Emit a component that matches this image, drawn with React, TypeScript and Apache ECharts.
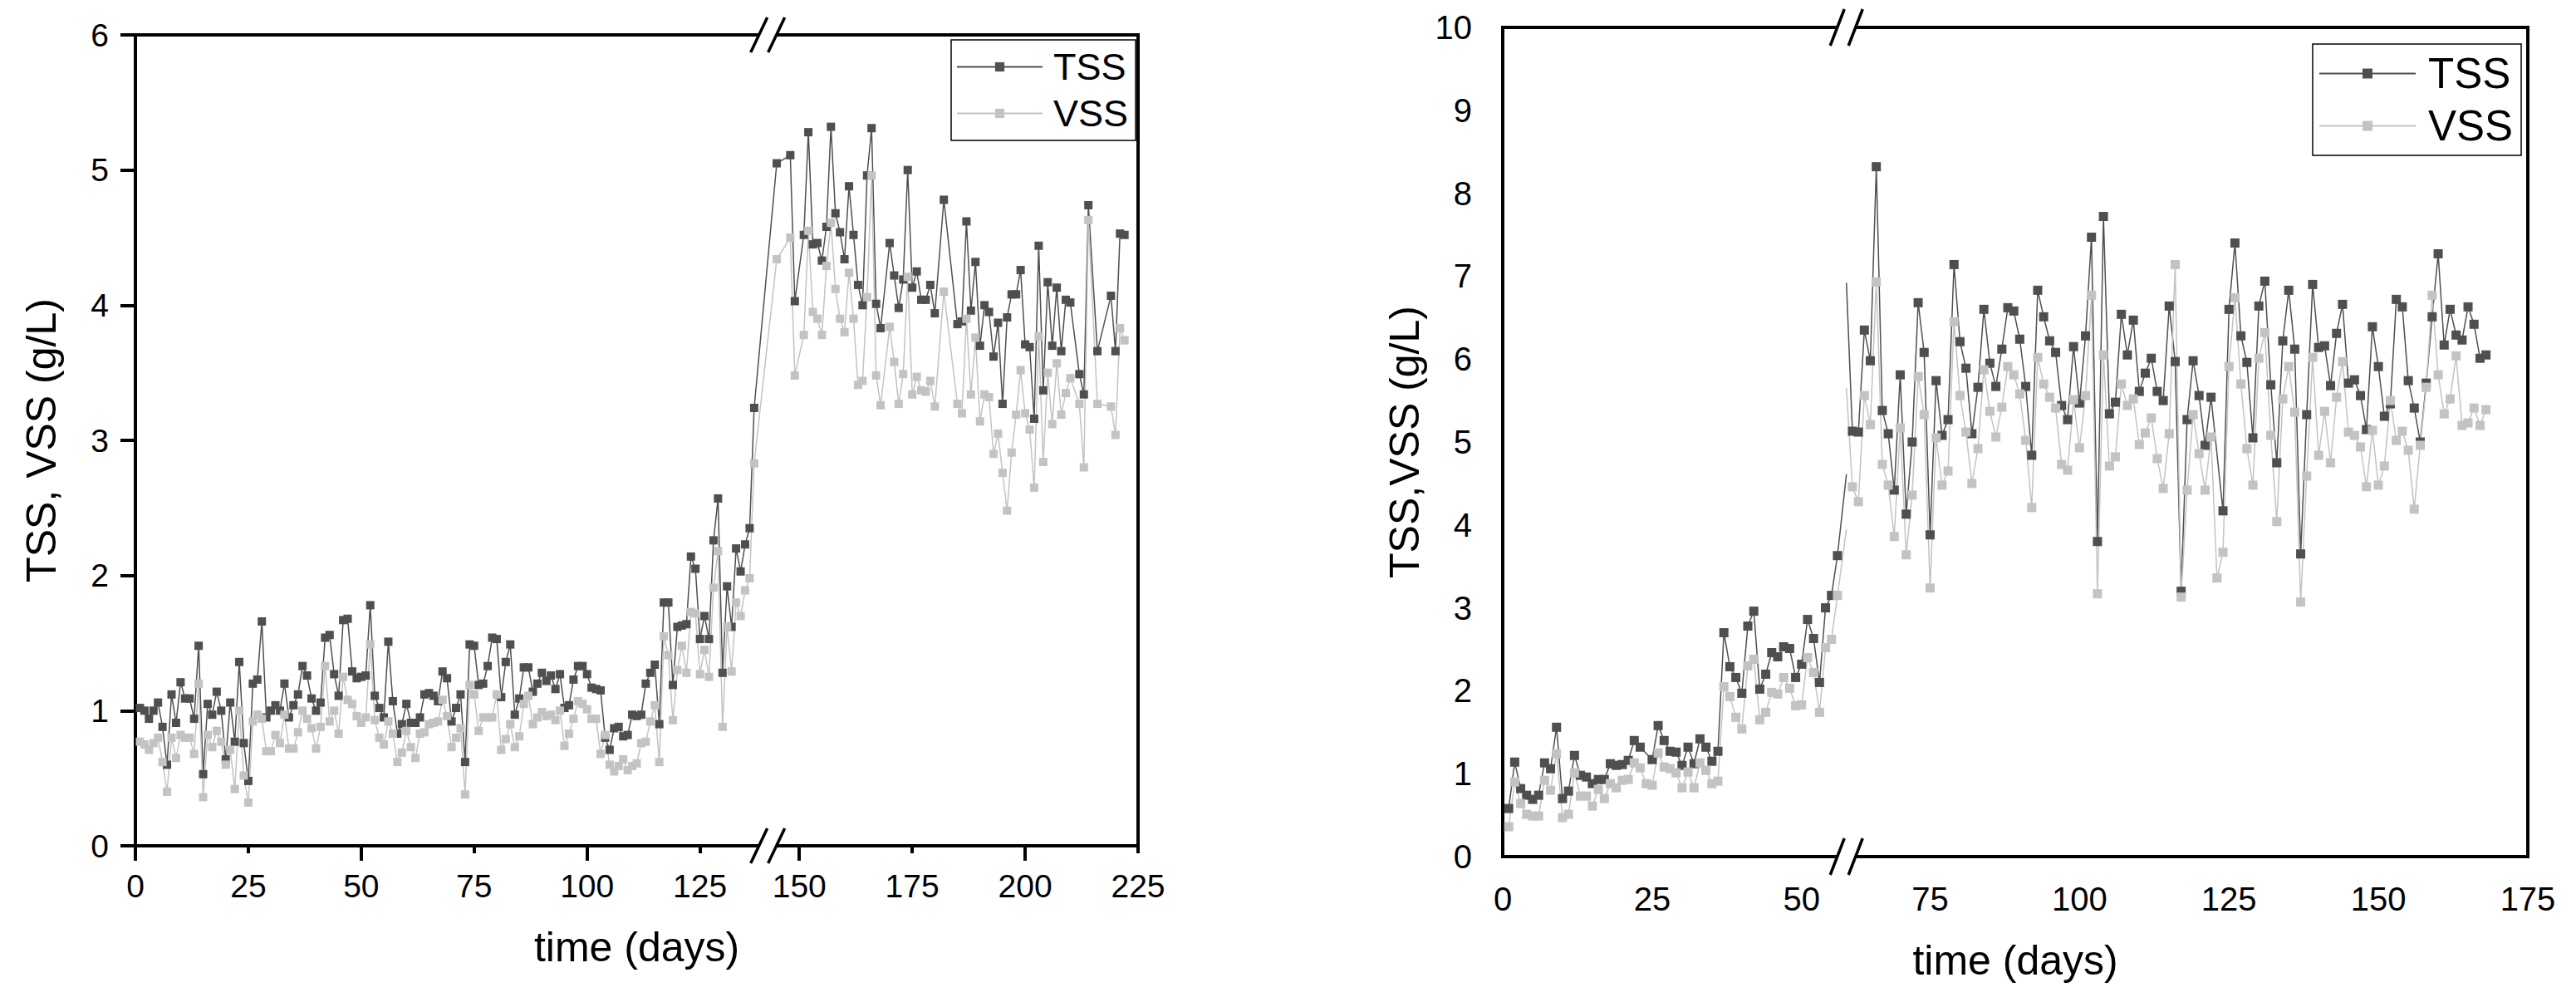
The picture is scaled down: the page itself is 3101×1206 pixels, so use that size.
import { useEffect, useRef } from 'react';
import * as echarts from 'echarts';

const FONT = 'Liberation Sans';
const TSS_COLOR = '#4f4f4f';
const VSS_COLOR = '#c3c3c3';

// ---------- left panel ----------
const leftDays = [
  1, 2, 3, 4, 5, 6, 7, 8, 9, 10, 11, 12, 13, 14, 15, 16, 17, 18, 19, 20,
  21, 22, 23, 24, 25, 26, 27, 28, 29, 30, 31, 32, 33, 34, 35, 36, 37, 38, 39, 40,
  41, 42, 43, 44, 45, 46, 47, 48, 49, 50, 51, 52, 53, 54, 55, 56, 57, 58, 59, 60,
  61, 62, 63, 64, 65, 66, 67, 68, 69, 70, 71, 72, 73, 74, 75, 76, 77, 78, 79, 80,
  81, 82, 83, 84, 85, 86, 87, 88, 89, 90, 91, 92, 93, 94, 95, 96, 97, 98, 99, 100,
  101, 102, 103, 104, 105, 106, 107, 108, 109, 110, 111, 112, 113, 114, 115, 116, 117, 118, 119, 120,
  121, 122, 123, 124, 125, 126, 127, 128, 129, 130, 131, 132, 133, 134, 135, 136, 137,
  145, 148, 149, 151, 152, 153, 154, 155, 156, 157, 158, 159, 160, 161, 162, 163, 164, 165, 166, 167, 168,
  170, 171, 172, 173, 174, 175, 176, 177, 178, 179, 180, 182,
  185, 186, 187, 188, 189, 190, 191, 192, 193, 194, 195, 196, 197, 198, 199, 200,
  201, 202, 203, 204, 205, 206, 207, 208, 209, 210, 212, 213, 214, 216, 219, 220, 221, 222,
];
const leftTss = [
  1.02, 1.0, 0.94, 1.0, 1.06, 0.88, 0.6, 1.12, 0.91, 1.21,
  1.09, 1.09, 0.94, 1.48, 0.53, 1.05, 0.97, 1.14, 1.0, 0.64,
  1.06, 0.77, 1.36, 0.76, 0.48, 1.2, 1.23, 1.66, 0.95, 1.0,
  1.04, 1.0, 1.2, 0.95, 1.04, 1.12, 1.33, 1.26, 1.09, 1.0,
  1.06, 1.54, 1.56, 1.27, 1.11, 1.67, 1.68, 1.29, 1.24, 1.25,
  1.26, 1.78, 1.11, 1.02, 0.95, 1.51, 1.07, 0.83, 0.9, 1.05,
  0.91, 0.91, 0.95, 1.12, 1.13, 1.11, 1.07, 1.29, 1.24, 0.92,
  1.02, 1.12, 0.62, 1.49, 1.48, 1.19, 1.2, 1.33, 1.54, 1.53,
  1.1, 1.36, 1.49, 0.97, 1.09, 1.32, 1.32, 1.14, 1.2, 1.28,
  1.22, 1.26, 1.16, 1.27, 1.02, 1.04, 1.23, 1.33, 1.33, 1.27,
  1.17, 1.16, 1.15, 0.8, 0.71, 0.87, 0.88, 0.81, 0.82, 0.97,
  0.96, 0.97, 1.2, 1.28, 1.34, 0.9, 1.8, 1.8, 1.19, 1.62,
  1.63, 1.64, 2.14, 2.05, 1.53, 1.7, 1.53, 2.26, 2.57, 1.28,
  1.92, 1.62, 2.2, 2.03, 2.23, 2.35, 3.24,
  5.05, 5.11, 4.03, 4.52, 5.28, 4.45, 4.46, 4.33, 4.58, 5.32, 4.68, 4.54, 4.34, 4.88, 4.52, 4.15, 4.0, 4.96, 5.31, 4.01, 3.83,
  4.46, 4.22, 3.98, 4.19, 5.0, 4.13, 4.25, 4.04, 4.04, 4.15, 3.94, 4.78,
  3.86, 3.88, 4.62, 3.96, 4.32, 3.7, 4.0, 3.95, 3.62, 3.87, 3.27, 3.91, 4.08, 4.08, 4.26, 3.71,
  3.69, 3.16, 4.44, 3.37, 4.17, 3.7, 4.13, 3.66, 4.04, 4.02, 3.49, 3.34, 4.74, 3.66, 4.07, 3.66, 4.53, 4.52,
];
const leftVss = [
  0.77, 0.75, 0.71, 0.76, 0.8, 0.62, 0.4, 0.8, 0.65, 0.82,
  0.8, 0.8, 0.68, 1.2, 0.36, 0.82, 0.73, 0.85, 0.77, 0.6,
  0.71, 0.42, 1.0, 0.52, 0.32, 0.92, 0.97, 0.94, 0.7, 0.7,
  0.82, 0.76, 0.97, 0.72, 0.72, 0.84, 1.0, 0.94, 0.87, 0.72,
  0.88, 1.33, 0.92, 1.0, 0.83, 1.25, 1.08, 1.05, 0.96, 0.91,
  0.95, 1.49, 0.93, 0.8, 0.75, 0.92, 0.83, 0.62, 0.69, 0.85,
  0.73, 0.65, 0.83, 0.84, 0.9, 0.91, 0.92, 1.08, 0.96, 0.73,
  0.8, 0.87, 0.38, 1.19, 1.12, 0.85, 0.95, 0.95, 0.95, 1.12,
  0.71, 0.79, 0.9, 0.73, 0.81, 1.05, 1.11, 0.9, 0.95, 0.99,
  0.96, 0.97, 0.93, 1.0, 0.74, 0.83, 0.94, 1.07, 1.05, 1.01,
  0.94, 0.94, 0.68, 0.82, 0.6, 0.55, 0.59, 0.64, 0.56, 0.59,
  0.61, 0.76, 0.77, 0.92, 1.04, 0.62, 1.55, 1.41, 0.93, 1.3,
  1.48, 1.28, 1.73, 1.72, 1.27, 1.45, 1.25, 1.91, 2.18, 0.88,
  1.62, 1.29, 1.8, 1.7, 1.89, 1.98, 2.83,
  4.34, 4.5, 3.48, 3.78, 4.55, 3.95, 3.9, 3.78, 4.29, 4.61, 4.12, 3.9, 3.8, 4.24, 3.9, 3.41, 3.44, 4.06, 4.96, 3.48, 3.26,
  3.84, 3.58, 3.27, 3.49, 4.21, 3.34, 3.47, 3.37, 3.36, 3.44, 3.25, 4.1,
  3.27, 3.2, 3.9, 3.34, 3.76, 3.14, 3.34, 3.32, 2.9, 3.05, 2.76, 2.48, 2.91, 3.19, 3.52, 3.2,
  3.08, 2.65, 3.77, 2.84, 3.5, 3.12, 3.57, 3.19, 3.35, 3.46, 3.27, 2.8, 4.63, 3.27, 3.25, 3.04, 3.83, 3.74,
];
const leftBreak = [140, 143];
const leftXLabels = [0, 25, 50, 75, 100, 125, 150, 175, 200, 225];
const leftXMajor = [0, 50, 100, 150, 200];

// ---------- right panel ----------
const rightDays = [
  1, 2, 3, 4, 5, 6, 7, 8, 9, 10, 11, 12, 13, 14, 15, 16, 17, 18, 19, 20,
  21, 22, 23, 24, 25, 26, 27, 28, 29, 30, 31, 32, 33, 34, 35, 36, 37, 38, 39, 40,
  41, 42, 43, 44, 45, 46, 47, 48, 49, 50, 51, 52, 53, 54, 55, 56,
  62, 63, 64, 65, 66, 67, 68, 69, 70, 71, 72, 73, 74, 75, 76, 77, 78, 79, 80, 81,
  82, 83, 84, 85, 86, 87, 88, 89, 90, 91, 92, 93, 94, 95, 96, 97, 98, 99, 100, 101,
  102, 103, 104, 105, 106, 107, 108, 109, 110, 111, 112, 113, 114, 115, 116, 117, 118, 119, 120, 121,
  122, 123, 124, 125, 126, 127, 128, 129, 130, 131, 132, 133, 134, 135, 136, 137, 138, 139, 140, 141,
  142, 143, 144, 145, 146, 147, 148, 149, 150, 151, 152, 153, 154, 155, 156, 157, 158, 159, 160, 161,
  162, 163, 164, 165, 166, 167, 168,
];
const rightTss = [
  0.58, 1.14, 0.82, 0.74, 0.69, 0.74, 1.13, 1.06, 1.56, 0.7,
  0.79, 1.22, 0.98, 0.96, 0.88, 0.93, 0.93, 1.12, 1.1, 1.11,
  1.16, 1.4, 1.32, null, 1.17, 1.58, 1.4, 1.27, 1.26, 1.1,
  1.32, 1.12, 1.42, 1.32, 1.15, 1.27, 2.7, 2.29, 2.16, 1.97,
  2.78, 2.96, 2.02, 2.2, 2.46, 2.41, 2.53, 2.51, 2.16, 2.32,
  2.86, 2.63, 2.1, 3.0, 3.15, 3.63,
  5.13, 5.12, 6.35, 5.98, 8.32, 5.38, 5.1, 4.42, 5.81, 4.13,
  5.0, 6.68, 6.08, 3.88, 5.74, 5.08, 5.27, 7.14, 6.21, 5.89,
  5.1, 5.66, 6.6, 5.95, 5.67, 6.12, 6.62, 6.58, 6.24, 5.67,
  4.84, 6.83, 6.51, 6.22, 6.08, 5.44, 5.27, 6.15, 5.47, 6.28,
  7.47, 3.8, 7.72, 5.34, 5.48, 6.54, 6.05, 6.47, 5.61, 5.83,
  6.01, 5.61, 5.5, 6.64, 5.97, 3.2, 5.27, 5.98, 5.56, 4.96,
  5.54, null, 4.17, 6.6, 7.4, 6.28, 5.96, 5.05, 6.64, 6.94,
  5.69, 4.75, 6.22, 6.83, 6.12, 3.65, 5.33, 6.9, 6.14, 6.16,
  5.68, 6.31, 6.66, 5.71, 5.75, 5.56, 5.15, 6.39, 5.91, 5.31,
  5.46, 6.72, 6.63, 5.74, 5.41, 5.0, 5.71, 6.51, 7.27, 6.17,
  6.6, 6.29, 6.23, 6.63, 6.42, 6.01, 6.05,
];
const rightVss = [
  0.36, 0.9, 0.64, 0.51, 0.49, 0.49, 0.92, 0.8, 1.24, 0.47,
  0.51, 1.01, 0.73, 0.73, 0.61, 0.81, 0.7, 0.88, 0.83, 0.92,
  0.93, 1.13, 1.07, 0.88, 0.86, 1.25, 1.08, 1.06, 1.01, 0.83,
  1.02, 0.83, 1.13, 1.04, 0.88, 0.91, 2.05, 1.93, 1.68, 1.54,
  2.3, 2.38, 1.65, 1.74, 1.98, 1.96, 2.16, 2.03, 1.82, 1.83,
  2.4, 2.22, 1.74, 2.52, 2.62, 3.15,
  4.46, 4.28, 5.56, 5.21, 6.93, 4.73, 4.48, 3.86, 5.17, 3.64,
  4.36, 5.79, 5.33, 3.24, 5.05, 4.48, 4.65, 6.45, 5.56, 5.12,
  4.5, 4.92, 5.87, 5.37, 5.06, 5.42, 5.91, 5.81, 5.58, 5.02,
  4.21, 6.02, 5.7, 5.54, 5.41, 4.73, 4.66, 5.51, 4.93, 5.56,
  6.77, 3.17, 6.05, 4.71, 4.82, 5.7, 5.44, 5.52, 4.97, 5.11,
  5.29, 4.8, 4.44, 5.1, 7.14, 3.13, 4.42, 5.33, 4.86, 4.42,
  5.06, 3.36, 3.67, 5.91, 6.74, 5.7, 4.92, 4.48, 6.01, 6.32,
  5.08, 4.04, 5.52, 5.91, 5.36, 3.07, 4.59, 6.02, 4.84, 5.37,
  4.75, 5.54, 5.97, 5.12, 5.08, 4.94, 4.46, 5.14, 4.48, 4.71,
  5.5, 5.02, 5.13, 4.9, 4.19, 4.96, 5.66, 6.77, 5.81, 5.34,
  5.52, 6.04, 5.2, 5.23, 5.41, 5.2, 5.39,
];
const rightBreak = [57.5, 61];
// where the lines meet the two edges of the break
const rightTssEdge = [4.61, 6.92];
const rightVssEdge = [3.95, 5.65];
const rightXLabels = [0, 25, 50, 75, 100, 125, 150, 175];

function toPoints(days: number[], values: (number | null)[]) {
  const out: number[][] = [];
  days.forEach((d, i) => {
    const v = values[i];
    if (v !== null && v !== undefined) out.push([d, v]);
  });
  return out;
}

function lineSeries(name: string, color: string, data: any[], xi: number, yi: number, size: number) {
  return {
    name,
    type: 'line',
    xAxisIndex: xi,
    yAxisIndex: yi,
    data,
    symbol: 'rect',
    symbolSize: size,
    itemStyle: { color },
    lineStyle: { color, width: 1.5 },
    emphasis: { disabled: true },
  };
}

// the "//" marks that sit on the top and bottom frame lines at an axis break
function breakMarks(cx: number, cy: number, w: number, h: number, sep: number) {
  const k = w / h;
  const c1 = cx - sep / 2;
  const c2 = cx + sep / 2;
  const slash = (c: number) => ({
    type: 'line',
    shape: { x1: c - w / 2, y1: cy + h / 2, x2: c + w / 2, y2: cy - h / 2 },
    style: { stroke: '#000', lineWidth: 3.5 },
    z: 101,
  });
  return [
    {
      type: 'polygon',
      shape: {
        points: [
          [c1 - 7 * k, cy + 7],
          [c1 + 7 * k, cy - 7],
          [c2 + 7 * k, cy - 7],
          [c2 - 7 * k, cy + 7],
        ],
      },
      style: { fill: '#fff' },
      z: 100,
    },
    slash(c1),
    slash(c2),
  ];
}

export default function App() {
  const chartRef = useRef<HTMLDivElement>(null);

  useEffect(() => {
    document.body.style.margin = '0';
    if (!chartRef.current) return;
    const chart = echarts.init(chartRef.current, null, { renderer: 'svg' });

    const txt = { fontFamily: FONT, color: '#000' };
    const frame = { lineStyle: { color: '#000', width: 4 } };
    const noSplit = { show: false };
    const leftBreaks = [{ start: leftBreak[0], end: leftBreak[1], gap: 0 }];
    const rightBreaks = [{ start: rightBreak[0], end: rightBreak[1], gap: 0 }];

    const rightTssData: any[] = toPoints(rightDays, rightTss);
    const rightVssData: any[] = toPoints(rightDays, rightVss);
    const before = (p: number[]) => p[0] < rightBreak[0];
    const after = (p: number[]) => p[0] > rightBreak[1];

    const option: any = {
      animation: false,
      backgroundColor: '#fff',
      textStyle: { fontFamily: FONT },
      grid: [
        { left: 163, top: 42, width: 1207, height: 976, show: true, borderColor: '#000', borderWidth: 4 },
        { left: 1809, top: 33, width: 1234, height: 998, show: true, borderColor: '#000', borderWidth: 4 },
      ],
      xAxis: [
        {
          gridIndex: 0, type: 'value', position: 'bottom', min: 0, max: 225, interval: 25,
          breaks: leftBreaks, breakArea: { show: false },
          axisLine: frame,
          axisTick: { show: true, length: 9, customValues: leftXLabels, lineStyle: { color: '#000', width: 4 } },
          axisLabel: { ...txt, fontSize: 39, margin: 29, customValues: leftXLabels },
          splitLine: noSplit,
          name: 'time (days)', nameLocation: 'middle', nameGap: 97,
          nameTextStyle: { ...txt, fontSize: 50 },
        },
        {
          gridIndex: 0, type: 'value', position: 'bottom', min: 0, max: 225, interval: 50,
          breaks: leftBreaks, breakArea: { show: false },
          axisLine: { show: false },
          axisTick: { show: true, length: 18, customValues: leftXMajor, lineStyle: { color: '#000', width: 4 } },
          axisLabel: { show: false },
          splitLine: noSplit,
        },
        {
          gridIndex: 1, type: 'value', position: 'bottom', min: 0, max: 175, interval: 25,
          breaks: rightBreaks, breakArea: { show: false },
          axisLine: frame,
          axisTick: { show: false },
          axisLabel: { ...txt, fontSize: 40, margin: 31, customValues: rightXLabels },
          splitLine: noSplit,
          name: 'time (days)', nameLocation: 'middle', nameGap: 100,
          nameTextStyle: { ...txt, fontSize: 50 },
        },
      ],
      yAxis: [
        {
          gridIndex: 0, type: 'value', min: 0, max: 6, interval: 1,
          axisLine: { show: true, ...frame },
          axisTick: { show: true, length: 18, lineStyle: { color: '#000', width: 4 } },
          axisLabel: { ...txt, fontSize: 39, margin: 32 },
          splitLine: noSplit,
          name: 'TSS, VSS (g/L)', nameLocation: 'middle', nameGap: 88,
          nameTextStyle: { ...txt, fontSize: 50 },
        },
        {
          gridIndex: 1, type: 'value', min: 0, max: 10, interval: 1,
          axisLine: { show: true, ...frame },
          axisTick: { show: false },
          axisLabel: { ...txt, fontSize: 40, margin: 37 },
          splitLine: noSplit,
          name: 'TSS,VSS (g/L)', nameLocation: 'middle', nameGap: 93,
          nameTextStyle: { ...txt, fontSize: 50 },
        },
      ],
      legend: [
        {
          left: 1145, top: 48, orient: 'vertical', data: ['TSS', 'VSS'],
          itemWidth: 103, itemHeight: 14, itemGap: 11,
          padding: [10, 9, 10, 6], borderColor: '#000', borderWidth: 1.5,
          selectedMode: false,
          textStyle: { ...txt, fontSize: 45, lineHeight: 45, padding: [0, 0, 0, 8] },
        },
        {
          left: 2784, top: 53, orient: 'vertical', data: ['TSS', 'VSS'],
          itemWidth: 116, itemHeight: 15, itemGap: 12,
          padding: [10, 10, 10, 7], borderColor: '#000', borderWidth: 1.5,
          selectedMode: false,
          textStyle: { ...txt, fontSize: 51, lineHeight: 51, padding: [0, 0, 0, 10] },
        },
      ],
      series: [
        lineSeries('TSS', TSS_COLOR, toPoints(leftDays, leftTss), 0, 0, 10),
        lineSeries('VSS', VSS_COLOR, toPoints(leftDays, leftVss), 0, 0, 10),
        lineSeries('TSS', TSS_COLOR, [
          ...rightTssData.filter(before),
          { value: [rightBreak[0], rightTssEdge[0]], symbol: 'none' },
        ], 2, 1, 11),
        lineSeries('TSS', TSS_COLOR, [
          { value: [rightBreak[1], rightTssEdge[1]], symbol: 'none' },
          ...rightTssData.filter(after),
        ], 2, 1, 11),
        lineSeries('VSS', VSS_COLOR, [
          ...rightVssData.filter(before),
          { value: [rightBreak[0], rightVssEdge[0]], symbol: 'none' },
        ], 2, 1, 11),
        lineSeries('VSS', VSS_COLOR, [
          { value: [rightBreak[1], rightVssEdge[1]], symbol: 'none' },
          ...rightVssData.filter(after),
        ], 2, 1, 11),
      ],
    };

    chart.setOption(option);

    // place the break marks where the axes put the breaks
    const lx = chart.convertToPixel({ xAxisIndex: 0 }, (leftBreak[0] + leftBreak[1]) / 2) as number;
    const lTop = chart.convertToPixel({ yAxisIndex: 0 }, 6) as number;
    const lBottom = chart.convertToPixel({ yAxisIndex: 0 }, 0) as number;
    const rx = chart.convertToPixel({ xAxisIndex: 2 }, (rightBreak[0] + rightBreak[1]) / 2) as number;
    const rTop = chart.convertToPixel({ yAxisIndex: 1 }, 10) as number;
    const rBottom = chart.convertToPixel({ yAxisIndex: 1 }, 0) as number;

    chart.setOption({
      graphic: [
        ...breakMarks(lx, lTop, 20, 42, 21),
        ...breakMarks(lx, lBottom, 20, 42, 21),
        ...breakMarks(rx, rTop, 17, 44, 22),
        ...breakMarks(rx, rBottom, 17, 44, 22),
      ],
    });

    return () => {
      chart.dispose();
    };
  }, []);

  return <div ref={chartRef} style={{ width: 3101, height: 1206 }} />;
}
